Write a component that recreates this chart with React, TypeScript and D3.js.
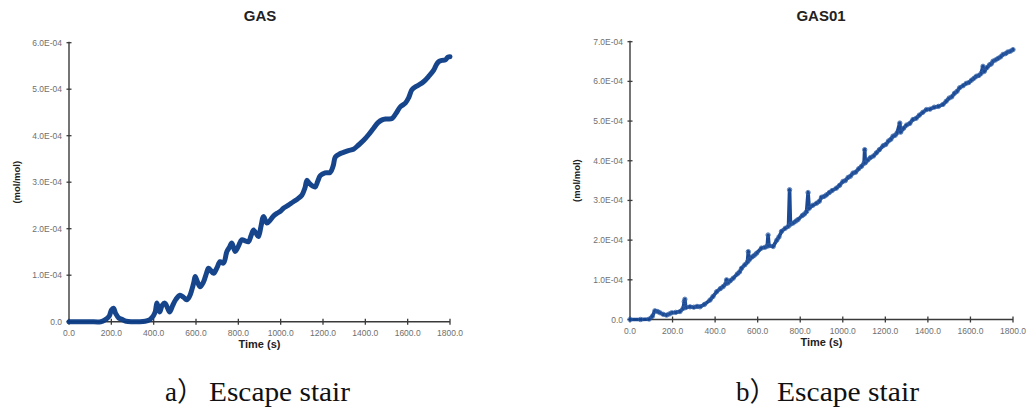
import React from "react";
import * as d3 from "d3";

// ---------- data ----------
const xTicks = [0, 200, 400, 600, 800, 1000, 1200, 1400, 1600, 1800];
const yTicksA = [0, 1e-4, 2e-4, 3e-4, 4e-4, 5e-4, 6e-4];
const yTicksB = [0, 1e-4, 2e-4, 3e-4, 4e-4, 5e-4, 6e-4, 7e-4];

// GAS (escape stair a) — time (s), value (x1e-4 mol/mol)
const gasTime = [0, 50, 100, 150, 170, 190, 200, 210, 220, 235, 250, 270, 300, 330, 360, 380, 390, 400, 408, 415, 422, 429, 440, 453, 465, 476, 490, 505, 524, 540, 556, 570, 580, 590, 596, 605, 619, 635, 650, 659, 670, 683, 698, 714, 730, 746, 758, 769, 785, 800, 816, 832, 848, 860, 872, 884, 895, 907, 919, 935, 950, 965, 982, 1000, 1013, 1035, 1060, 1080, 1100, 1115, 1124, 1135, 1150, 1163, 1175, 1187, 1210, 1234, 1248, 1258, 1275, 1297, 1320, 1344, 1368, 1392, 1415, 1439, 1460, 1479, 1500, 1526, 1545, 1565, 1589, 1605, 1620, 1640, 1652, 1675, 1700, 1723, 1735, 1746, 1762, 1778, 1790, 1800];
const gasValue = [0, 0, 0, 0, 0.04, 0.12, 0.25, 0.29, 0.18, 0.08, 0.05, 0.01, 0, 0, 0.01, 0.04, 0.08, 0.14, 0.22, 0.4, 0.3, 0.21, 0.35, 0.4, 0.3, 0.21, 0.35, 0.48, 0.57, 0.53, 0.47, 0.55, 0.68, 0.85, 0.97, 0.88, 0.75, 0.85, 1.05, 1.15, 1.1, 1.04, 1.15, 1.29, 1.26, 1.51, 1.6, 1.69, 1.51, 1.62, 1.76, 1.74, 1.72, 1.85, 1.97, 1.9, 1.83, 2.05, 2.26, 2.12, 2.18, 2.27, 2.33, 2.38, 2.44, 2.5, 2.58, 2.64, 2.72, 2.88, 3.04, 2.98, 2.92, 2.9, 3.02, 3.14, 3.2, 3.21, 3.35, 3.54, 3.6, 3.64, 3.68, 3.71, 3.8, 3.9, 4.02, 4.16, 4.28, 4.34, 4.36, 4.37, 4.48, 4.62, 4.7, 4.82, 4.99, 5.06, 5.09, 5.16, 5.28, 5.41, 5.52, 5.59, 5.62, 5.63, 5.69, 5.7];

// GAS01 (escape stair b) — time (s), value (x1e-4 mol/mol)
const gas01Time = [0, 50, 90, 105, 117, 130, 141, 156, 172, 185, 196, 215, 235, 250, 255, 258, 262, 282, 300, 315, 329, 350, 376, 390, 407, 425, 438, 450, 454, 460, 472, 485, 505, 515, 524, 540, 552, 556, 560, 575, 585, 595, 618, 635, 645, 649, 653, 673, 690, 700, 712, 730, 745, 750, 754, 767, 780, 790, 810, 820, 830, 837, 842, 860, 877, 890, 900, 912, 923, 937, 950, 970, 985, 1001, 1012, 1025, 1036, 1048, 1060, 1075, 1088, 1100, 1103, 1106, 1118, 1130, 1144, 1158, 1172, 1190, 1202, 1215, 1226, 1236, 1246, 1255, 1268, 1272, 1286, 1300, 1315, 1330, 1345, 1360, 1376, 1393, 1410, 1430, 1450, 1471, 1486, 1500, 1512, 1525, 1537, 1549, 1565, 1580, 1592, 1605, 1617, 1628, 1640, 1650, 1659, 1665, 1678, 1690, 1698, 1706, 1718, 1730, 1742, 1753, 1765, 1775, 1788, 1800];
const gas01Value = [0, 0, 0.01, 0.08, 0.22, 0.2, 0.17, 0.13, 0.11, 0.14, 0.17, 0.18, 0.2, 0.28, 0.45, 0.51, 0.3, 0.32, 0.31, 0.33, 0.32, 0.38, 0.49, 0.58, 0.7, 0.78, 0.83, 0.9, 1.0, 0.92, 0.98, 1.04, 1.15, 1.2, 1.29, 1.38, 1.45, 1.71, 1.5, 1.58, 1.62, 1.67, 1.8, 1.82, 1.85, 2.13, 1.86, 1.84, 2.0, 2.08, 2.22, 2.3, 2.35, 3.27, 2.4, 2.43, 2.48, 2.52, 2.62, 2.66, 2.72, 3.2, 2.8, 2.88, 2.93, 2.98, 3.08, 3.1, 3.14, 3.2, 3.25, 3.31, 3.38, 3.48, 3.5, 3.58, 3.61, 3.69, 3.71, 3.8, 3.86, 3.94, 4.28, 3.95, 4.02, 4.08, 4.12, 4.2, 4.28, 4.38, 4.41, 4.5, 4.54, 4.62, 4.64, 4.7, 4.95, 4.72, 4.82, 4.9, 4.94, 5.04, 5.07, 5.15, 5.22, 5.29, 5.3, 5.35, 5.37, 5.42, 5.5, 5.58, 5.61, 5.7, 5.75, 5.84, 5.89, 5.95, 5.97, 6.03, 6.08, 6.13, 6.15, 6.2, 6.38, 6.25, 6.35, 6.42, 6.44, 6.51, 6.54, 6.58, 6.62, 6.68, 6.7, 6.74, 6.76, 6.8];

const titles = ["GAS", "GAS01"];
const captions = ["a）", "b）"];
const captionText = "Escape stair";

// ---------- helpers ----------
const fmtY = (v: number) => (v === 0 ? "0.0" : v.toExponential(1).replace("e-", "E-0").toUpperCase());
const fmtX = (v: number) => v.toFixed(1);

type PanelProps = {
  x0: number; x1: number; yTop: number; yBottom: number; yMax: number; yTicks: number[];
  times: number[]; values: number[]; title: string; titleX: number; ylabX: number;
  lineColor: string; lineWidth: number; markers: boolean; smooth: boolean;
};

function Panel(p: PanelProps) {
  const x = d3.scaleLinear().domain([0, 1800]).range([p.x0, p.x1]);
  const y = d3.scaleLinear().domain([0, p.yMax]).range([p.yBottom, p.yTop]);
  const pts = p.times.map((t, i) => [t, p.values[i] * 1e-4] as [number, number]);
  const line = d3.line<[number, number]>().x((d) => x(d[0])).y((d) => y(d[1]))
    .curve(p.smooth ? d3.curveCatmullRom.alpha(0.5) : d3.curveLinear);
  const axisColor = "#3a3a3a";
  const tickColor = "#6f6f6f";
  return (
    <g>
      <text x={p.titleX} y={21} textAnchor="middle" fontFamily="'Liberation Sans', Arial, sans-serif" fontWeight="bold" fontSize={15} fill="#222">{p.title}</text>
      <text transform={`translate(${p.ylabX},${(p.yTop + p.yBottom) / 2}) rotate(-90)`} textAnchor="middle" fontFamily="'Liberation Sans', Arial, sans-serif" fontWeight="bold" fontSize={9.5} fill="#222">(mol/mol)</text>
      <line x1={p.x0} x2={p.x0} y1={p.yTop - 1} y2={p.yBottom} stroke={axisColor} strokeWidth={1.4} />
      <line x1={p.x0} x2={p.x1} y1={p.yBottom} y2={p.yBottom} stroke={axisColor} strokeWidth={1.4} />
      {p.yTicks.map((v) => (
        <g key={"y" + v}>
          <line x1={p.x0 - 2.5} x2={p.x0 + 2.5} y1={y(v)} y2={y(v)} stroke={axisColor} strokeWidth={1.3} />
          <text x={p.x0 - 7} y={y(v) + 3} textAnchor="end" fontFamily="'Liberation Sans', Arial, sans-serif" fontSize={8.5} fill={tickColor}>{fmtY(v)}</text>
        </g>
      ))}
      {xTicks.map((v) => (
        <g key={"x" + v}>
          <line x1={x(v)} x2={x(v)} y1={p.yBottom - 3} y2={p.yBottom + 3} stroke={axisColor} strokeWidth={1.3} />
          <text x={x(v)} y={p.yBottom + 14} textAnchor="middle" fontFamily="'Liberation Sans', Arial, sans-serif" fontSize={8.5} fill={tickColor}>{fmtX(v)}</text>
        </g>
      ))}
      <text x={(p.x0 + p.x1) / 2} y={p.yBottom + 26} textAnchor="middle" fontFamily="'Liberation Sans', Arial, sans-serif" fontWeight="bold" fontSize={11} fill="#222">Time (s)</text>
      <path d={line(pts) || ""} fill="none" stroke={p.lineColor} strokeWidth={p.lineWidth} strokeLinejoin="round" strokeLinecap="round" opacity={0.95} />
      {p.markers && pts.map((d, i) => (
        <circle key={i} cx={x(d[0])} cy={y(d[1])} r={2.2} fill="none" stroke="#2f5fa5" strokeWidth={0.9} opacity={0.85} />
      ))}
    </g>
  );
}

export default function App() {
  return (
    <svg width={1032} height={414} style={{ position: "absolute", left: 0, top: 0, background: "#fff" }}>
      <rect width={1032} height={414} fill="#fff" />
      <Panel x0={69} x1={450} yTop={42.7} yBottom={321.7} yMax={6e-4} yTicks={yTicksA} times={gasTime} values={gasValue} title={titles[0]} titleX={260} ylabX={20} lineColor="#0b3b85" lineWidth={5} markers={false} smooth={true} />
      <Panel x0={630} x1={1013} yTop={41.7} yBottom={319.5} yMax={7e-4} yTicks={yTicksB} times={gas01Time} values={gas01Value} title={titles[1]} titleX={821} ylabX={580} lineColor="#0f3f8e" lineWidth={3.6} markers={true} smooth={false} />
      <text x={165} y={401} fontFamily="'Liberation Serif', 'Noto Sans CJK SC', serif" fontSize={27} fill="#111">{captions[0]}</text>
      <text x={209} y={401} fontFamily="'Liberation Serif', 'Times New Roman', serif" fontSize={27} fill="#111" textLength={141} lengthAdjust="spacingAndGlyphs">{captionText}</text>
      <text x={736} y={401} fontFamily="'Liberation Serif', 'Noto Sans CJK SC', serif" fontSize={27} fill="#111">{captions[1]}</text>
      <text x={777} y={401} fontFamily="'Liberation Serif', 'Times New Roman', serif" fontSize={27} fill="#111" textLength={142} lengthAdjust="spacingAndGlyphs">{captionText}</text>
    </svg>
  );
}
